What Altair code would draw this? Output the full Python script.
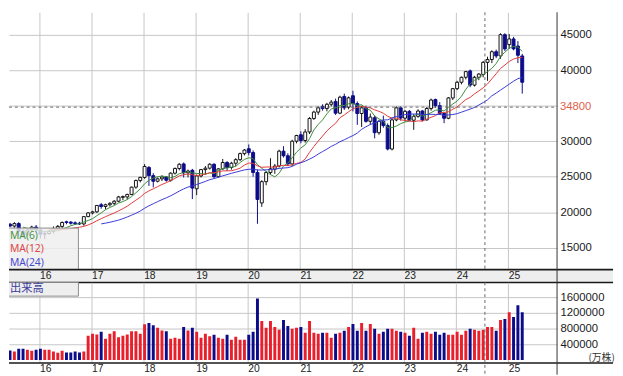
import altair as alt
import pandas as pd

# ---------------- data (monthly, Apr 2015 .. Apr 2025) ----------------
opens = [
    18600, 18700, 18300, 18050, 18400, 17300, 16800, 17500, 17900,
    17500, 16900, 17000, 17300, 17700, 18000, 18650, 18600, 18500, 18450, 18350, 19380,
    19900, 20050, 21050, 20800, 21050, 21250, 21550, 22100, 22150, 22500, 23530, 24460,
    24900, 26300, 25150, 24360, 24700, 24950, 24500, 25500, 26150, 26800, 25550, 25900,
    23300, 25100, 26000, 26200, 26750, 25000, 26100, 27000, 26300, 26900, 27400, 28250,
    28940, 28400, 25600, 21300, 24300, 25600, 26050, 26500, 28600, 27950, 26800, 30000,
    30900, 30100, 31300, 33200, 34100, 34900, 34600, 35200, 35600, 33950, 36300, 34800,
    36400, 35300, 33900, 34700, 32800, 33300, 31200, 32800, 32200, 28900, 33000, 34700,
    33250, 34200, 32950, 33500, 34250, 33000, 34600, 35860, 35000, 33900, 33230, 36090,
    37400, 38300, 39000, 39900, 37900, 39000, 39400, 41100, 41500, 42600, 42000, 45000,
    43600, 44400, 43400, 42000,
]
highs = [
    18900, 18800, 18500, 18600, 18600, 17600, 17700, 18100, 18200,
    17600, 17300, 17500, 18000, 18200, 18700, 18800, 18750, 18700, 18650, 19450, 20000,
    20200, 21000, 21300, 21200, 21400, 21700, 22300, 22350, 22600, 23600, 24600, 25000,
    26770, 26500, 25500, 24900, 25200, 25100, 25600, 26300, 26900, 27000, 26000, 26100,
    25300, 26100, 26500, 26900, 26900, 26200, 27500, 27200, 27100, 27600, 28400, 28900,
    29540, 28700, 26000, 24500, 25800, 27600, 26800, 28800, 29300, 28300, 30200, 30900,
    31400, 31700, 33400, 34300, 34900, 35200, 35400, 35800, 36000, 36400, 36700, 36300,
    37100, 35600, 35000, 35000, 33900, 33600, 33000, 33600, 32500, 33200, 34900, 34900,
    34400, 34400, 33800, 34500, 34400, 34800, 36000, 36000, 35500, 34000, 36200, 37500,
    38500, 39100, 39900, 40100, 39200, 39600, 41300, 41900, 42800, 42900, 45200, 45200,
    45100, 44700, 44100, 42300,
]
lows = [
    18300, 18200, 17900, 17800, 16600, 16400, 16600, 17300, 17200,
    16300, 16200, 16800, 17000, 17500, 17600, 18300, 18250, 18200, 18200, 18100, 19300,
    19700, 19900, 20500, 20400, 20800, 21000, 21400, 21700, 21800, 22400, 23300, 24200,
    24700, 23700, 23500, 24200, 24400, 24300, 24300, 25300, 25900, 24900, 24900, 21850,
    22400, 24900, 25300, 26000, 24800, 24900, 26000, 25800, 26000, 26500, 27200, 28000,
    28000, 25000, 18370, 20760, 23800, 25300, 25400, 26300, 27700, 26500, 26500, 29700,
    29700, 29800, 31000, 33000, 33700, 34300, 34200, 34900, 33700, 33800, 34400, 34500,
    34200, 32300, 32000, 32600, 32300, 30400, 30900, 31900, 28700, 28700, 32800, 32900,
    32800, 32800, 31600, 33300, 32800, 32900, 34300, 34700, 33700, 32540, 33100, 35800,
    37200, 38000, 38700, 37600, 37700, 38600, 39000, 38500, 41000, 41700, 41600, 42700,
    43000, 42800, 41000, 36700,
]
closes = [
    18500, 18300, 18050, 18400, 17300, 16800, 17500, 17900, 17500,
    16900, 17000, 17300, 17700, 18000, 18550, 18550, 18450, 18400, 18350, 19380, 19900,
    20050, 20950, 20800, 21050, 21250, 21550, 22150, 22200, 22500, 23530, 24460, 24900,
    26440, 25150, 24360, 24700, 24950, 24500, 25500, 26150, 26750, 25550, 25800, 23400,
    25100, 26000, 26200, 26750, 25000, 26100, 27000, 26300, 26900, 27400, 28250, 28750,
    28400, 25600, 21800, 24300, 25600, 26100, 26500, 28600, 27950, 26800, 30000, 30800,
    30100, 31300, 33200, 34100, 34700, 34600, 35200, 35500, 33950, 36200, 34700, 36100,
    35300, 33900, 34700, 32800, 33400, 31200, 32800, 32200, 28900, 33000, 34700, 33250,
    34200, 32950, 33500, 34250, 33000, 34600, 35800, 35000, 33900, 33230, 36090, 37400,
    38300, 39000, 39800, 37900, 39000, 39450, 41100, 41500, 42600, 42000, 45000, 43000,
    44400, 43000, 42100, 38300,
]
volumes = [
    250000, 200000, 242500, 217500, 284000, 284000, 259000, 234000, 259000,
    284000, 259000, 259000, 217500, 184000, 234000, 192000, 192000, 217500, 192000, 217500, 617500,
    667500, 651000, 717500, 542500, 667500, 734000, 576000, 617500, 651000, 734000, 734000, 667500,
    909000, 942500, 884000, 817500, 751000, 734000, 542500, 567500, 542500, 842500, 751000, 817500,
    717500, 567500, 667500, 601000, 642500, 567500, 542500, 642500, 517500, 592500, 517500, 517500,
    642500, 717500, 1567500, 992500, 817500, 992500, 842500, 767500, 1017500, 867500, 792500, 817500,
    842500, 692500, 992500, 692500, 667500, 692500, 692500, 567500, 667500, 692500, 742500, 842500,
    917500, 742500, 942500, 742500, 917500, 792500, 667500, 717500, 792500, 792500, 742500, 717500,
    692500, 617500, 817500, 542500, 692500, 717500, 667500, 717500, 642500, 692500, 642500, 642500,
    717500, 642500, 742500, 792500, 767500, 742500, 767500, 842500, 842500, 742500, 1017500, 1042500,
    1217500, 1092500, 1392500, 1217500,
]
year_labels = ["16", "17", "18", "19", "20", "21", "22", "23", "24", "25"]
price_ticks = [15000, 20000, 25000, 30000, 35000, 40000, 45000]
volume_ticks = [400000, 800000, 1200000, 1600000]
ma_names = ["MA(6)", "MA(12)", "MA(24)"]
cursor_month = 102.4     # crosshair position (months from Jan 2016)
cursor_price = 34800

# ---------------- frame ----------------
FONT = "Liberation Sans"
GRID = "#c6c6c6"
NAVY = "#0c0c8a"
RED = "#e8202c"
MA_COLORS = ["#3d8a3d", "#e23a3a", "#3838d8"]
MA_TEXT = ["#4a944a", "#e04646", "#4a4ad0"]

W, H, VH = 558, 262, 82
PX = 4.5
T_MIN = -27.5 / PX
T_MAX = T_MIN + W / PX
P45, K = 22.8, 0.00723
Y_MAX = 45000 + P45 / K
Y_MIN = 45000 - (H - P45) / K
V_MIN, V_MAX = -75000, 1975000

n = len(closes)
df = pd.DataFrame({
    "t": [i - 9 for i in range(n)],
    "open": opens, "high": highs, "low": lows, "close": closes, "vol": volumes,
})
df["dir"] = ["up" if c >= o else "down" for o, c in zip(opens, closes)]
df["vdir"] = ["vup" if c >= o else "vdown" for o, c in zip(opens, closes)]
df["ma6"] = df["close"].rolling(6).mean()
df["ma12"] = df["close"].rolling(12).mean()
df["ma24"] = df["close"].rolling(24).mean()

grid_t = [12 * k - 1 / 3 for k in range(len(year_labels))]
ydf = pd.DataFrame({"gt": grid_t, "lbl": year_labels})
cur = pd.DataFrame({"t": [cursor_month], "p": [cursor_price]})
dummy = pd.DataFrame({"a": [0]})

xscale = alt.Scale(domain=[T_MIN, T_MAX], nice=False, zero=False)
yscale = alt.Scale(domain=[Y_MIN, Y_MAX], nice=False, zero=False)
dir_dom = ["up", "down"]

xaxis = alt.Axis(values=grid_t, grid=True, gridColor=GRID, labels=False, ticks=False,
                 domain=False, title=None)
yaxis = alt.Axis(orient="right", values=price_ticks, grid=True, gridColor=GRID,
                 domain=False, ticks=False, labelPadding=3, labelFont=FONT,
                 labelFontSize=11.5, labelColor="#1a1a1a", format="d",
                 labelExpr="datum.value == 35000 ? '' : datum.label", title=None)

base = alt.Chart(df)
wicks = base.mark_rule(clip=True, strokeWidth=1).encode(
    x=alt.X("t:Q", scale=xscale, axis=xaxis),
    y=alt.Y("low:Q", scale=yscale, axis=yaxis),
    y2="high:Q",
    color=alt.Color("dir:N", scale=alt.Scale(domain=dir_dom, range=["#111111", NAVY]), legend=None),
)
bodies = base.mark_bar(size=3, clip=True, strokeWidth=1).encode(
    x=alt.X("t:Q", title=None),
    y=alt.Y("open:Q", title=None),
    y2="close:Q",
    fill=alt.Fill("dir:N", scale=alt.Scale(domain=dir_dom, range=["#ffffff", NAVY]), legend=None),
    stroke=alt.Stroke("dir:N", scale=alt.Scale(domain=dir_dom, range=["#111111", NAVY]), legend=None),
)
ma_lines = [
    base.mark_line(clip=True, strokeWidth=1, color=c).encode(
        x=alt.X("t:Q", title=None), y=alt.Y(f"{col}:Q", title=None))
    for col, c in zip(["ma6", "ma12", "ma24"], MA_COLORS)
]
hline = alt.Chart(cur).mark_rule(strokeDash=[3, 3], color="#666666").encode(
    y=alt.Y("p:Q", title=None), x=alt.value(0), x2=alt.value(W))
vline = alt.Chart(cur).mark_rule(strokeDash=[3, 3], color="#666666").encode(
    x=alt.X("t:Q", title=None), y=alt.value(0), y2=alt.value(H + 13))
plabel = alt.Chart(cur).mark_text(align="left", baseline="middle", font=FONT, fontSize=11.5,
                                  color="#e0604c").encode(
    y=alt.Y("p:Q", title=None), x=alt.value(W + 3), text=alt.Text("p:Q", format="d"))

# MA legend box
box = alt.Chart(dummy).mark_rect(fill="#eeeeee", opacity=0.82).encode(
    x=alt.value(0), x2=alt.value(70.7), y=alt.value(219.7), y2=alt.value(H))
box_top = alt.Chart(dummy).mark_rule(color="#8c8c8c").encode(
    x=alt.value(0), x2=alt.value(70.7), y=alt.value(219.7))
box_right = alt.Chart(dummy).mark_rule(color="#8c8c8c").encode(
    x=alt.value(70.7), y=alt.value(219.7), y2=alt.value(H))
ma_texts = [
    alt.Chart(dummy).mark_text(align="left", baseline="middle", font="Noto Sans", fontSize=10.5,
                               color=tc, text=name).encode(x=alt.value(1), y=alt.value(py))
    for name, tc, py in zip(ma_names, MA_TEXT, [228, 241.5, 255])
]

# date band
band = alt.Chart(dummy).mark_rect(fill="#eeeeee").encode(
    x=alt.value(0), x2=alt.value(615), y=alt.value(H), y2=alt.value(H + 13))
band_top = alt.Chart(dummy).mark_rule(color="#1a1a1a", strokeWidth=2).encode(
    x=alt.value(0), x2=alt.value(615), y=alt.value(H))
band_bot = alt.Chart(dummy).mark_rule(color="#1a1a1a", strokeWidth=1.5).encode(
    x=alt.value(0), x2=alt.value(615), y=alt.value(H + 13))
band_lbl = alt.Chart(ydf).mark_text(align="left", baseline="middle", dx=1, font=FONT,
                                    fontSize=10.5, color="#222222").encode(
    x=alt.X("gt:Q", title=None), y=alt.value(H + 7), text="lbl:N")
right_border = alt.Chart(dummy).mark_rule(color="#333333").encode(
    x=alt.value(W), y=alt.value(0), y2=alt.value(H + 13))

main = alt.layer(
    wicks, bodies, *ma_lines, hline, vline, box, box_top, box_right, *ma_texts,
    band, band_top, band_bot, band_lbl, right_border, plabel,
).properties(width=W, height=H)

# ---------------- volume panel ----------------
vxaxis = alt.Axis(values=grid_t, grid=True, gridColor=GRID, labels=False, ticks=False,
                  domain=False, title=None)
vyaxis = alt.Axis(orient="right", values=volume_ticks, format="d", grid=True, gridColor=GRID,
                  domain=False, ticks=False, labelPadding=3, labelFont=FONT,
                  labelFontSize=11.5, labelColor="#1a1a1a", title=None)
vbars = base.mark_bar(size=3, clip=True).encode(
    x=alt.X("t:Q", scale=xscale, axis=vxaxis),
    y=alt.Y("vol:Q", scale=alt.Scale(domain=[V_MIN, V_MAX], nice=False, zero=False), axis=vyaxis),
    y2=alt.value(VH),
    fill=alt.Fill("vdir:N", scale=alt.Scale(domain=["vup", "vdown"], range=[RED, NAVY]), legend=None),
)
vbox = alt.Chart(dummy).mark_rect(fill="#eeeeee").encode(
    x=alt.value(0), x2=alt.value(70.7), y=alt.value(0), y2=alt.value(14))
vbox_bot = alt.Chart(dummy).mark_rule(color="#8c8c8c").encode(
    x=alt.value(0), x2=alt.value(70.7), y=alt.value(14))
vbox_right = alt.Chart(dummy).mark_rule(color="#8c8c8c").encode(
    x=alt.value(70.7), y=alt.value(0), y2=alt.value(14))
vbox_txt = alt.Chart(dummy).mark_text(align="left", baseline="middle", font="Noto Sans CJK JP",
                                      fontSize=11.5, color="#3c3c9c", text="出来高").encode(
    x=alt.value(1), y=alt.value(7))
v_bottom = alt.Chart(dummy).mark_rule(color="#1a1a1a", strokeWidth=1.5).encode(
    x=alt.value(0), x2=alt.value(615), y=alt.value(VH))
v_right = alt.Chart(dummy).mark_rule(color="#333333").encode(
    x=alt.value(W), y=alt.value(0), y2=alt.value(VH + 12))
v_vline = alt.Chart(cur).mark_rule(strokeDash=[3, 3], color="#666666").encode(
    x=alt.X("t:Q", title=None), y=alt.value(0), y2=alt.value(VH + 12))
v_lbl = alt.Chart(ydf).mark_text(align="left", baseline="middle", dx=1, font=FONT,
                                 fontSize=10.5, color="#222222").encode(
    x=alt.X("gt:Q", title=None), y=alt.value(VH + 6.7), text="lbl:N")
v_unit = alt.Chart(dummy).mark_text(align="left", baseline="middle", font="Noto Sans CJK JP",
                                    fontSize=10, color="#333333", text="(万株)").encode(
    x=alt.value(W + 32), y=alt.value(77))

vol = alt.layer(
    vbars, vbox, vbox_bot, vbox_right, vbox_txt, v_bottom, v_right, v_vline, v_lbl, v_unit,
).properties(width=W, height=VH)

chart = alt.vconcat(main, vol, spacing=13, bounds="flush").resolve_scale(
    color="independent", fill="independent", stroke="independent"
).properties(padding=0, background="white").configure_view(strokeWidth=0)

chart.save("out.html", embed_options={"renderer": "svg", "actions": False})
